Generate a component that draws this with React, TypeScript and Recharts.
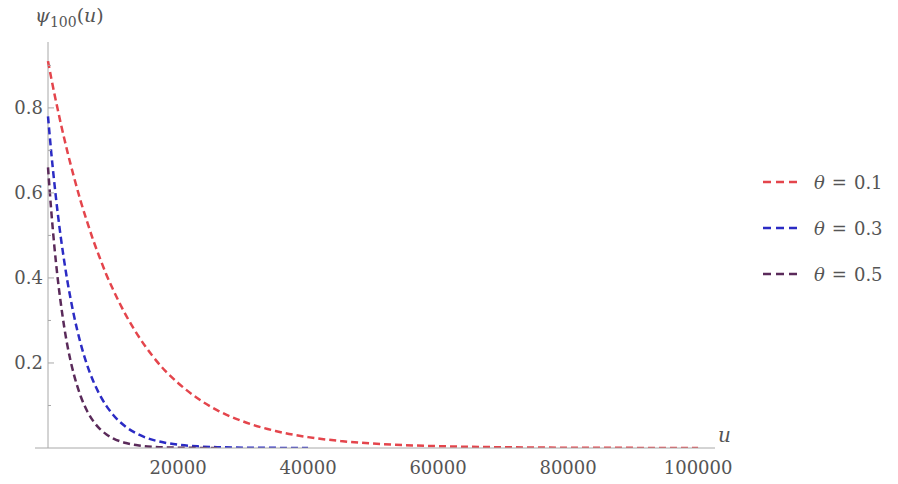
import React from 'react';
import { LineChart, Line, XAxis, YAxis, ReferenceLine } from 'recharts';

// u sample points shared by the three curves
const uPoints = [
  0, 500, 1000, 1500, 2000, 2500, 3000, 3500, 4000, 5000, 6000, 7000, 8000, 9000, 10000,
  12000, 14000, 16000, 18000, 20000, 23000, 26000, 30000, 35000, 40000, 45000, 50000,
  55000, 60000, 70000, 80000, 90000, 100000,
];

const theta01 = [
  0.91, 0.87, 0.832, 0.796, 0.761, 0.728, 0.696, 0.666, 0.637, 0.582, 0.533, 0.487, 0.446, 0.407,
  0.373, 0.312, 0.261, 0.218, 0.182, 0.153, 0.117, 0.089, 0.0625, 0.04, 0.0256, 0.0164, 0.0105,
  0.0067, 0.0043, 0.0018, 0.0007, 0.0003, 0.0001,
];

const theta03 = [
  0.78, 0.695, 0.62, 0.552, 0.492, 0.439, 0.391, 0.349, 0.311, 0.247, 0.196, 0.156, 0.124, 0.0985,
  0.0783, 0.0495, 0.0312, 0.0197, 0.0125, 0.0079, 0.0039, 0.002, 0.0008, 0.0003, 0.0001,
  null, null, null, null, null, null, null, null,
];

const theta05 = [
  0.66, 0.558, 0.471, 0.398, 0.337, 0.284, 0.24, 0.203, 0.172, 0.123, 0.0875, 0.0625, 0.0446,
  0.0319, 0.0228, 0.0116, 0.0059, 0.003, 0.0015, 0.0008, 0.0003, 0.0001,
  null, null, null, null, null, null, null, null, null, null, null,
];

const xTicks = [20000, 40000, 60000, 80000, 100000];
const yTicks = [0.05, 0.1, 0.15, 0.2, 0.25, 0.3, 0.35, 0.4, 0.45, 0.5, 0.55, 0.6, 0.65, 0.7, 0.75, 0.8, 0.85, 0.9];
const legendLabels = ['0.1', '0.3', '0.5'];

const COLORS = ['#e4454c', '#2b2bc4', '#5a2a5a'];
const AXIS = '#a8a8a8';
const FONT = '"DejaVu Serif", "Liberation Serif", serif';
const DASH = '7 4';

const data = uPoints.map((u, i) => ({ u, a: theta01[i], b: theta03[i], c: theta05[i] }));

const YTick = (props: any) => {
  const { x, y, payload } = props;
  const v = payload.value as number;
  const major = Math.abs(v * 5 - Math.round(v * 5)) < 1e-6;
  const ax = x + 13;
  return (
    <g>
      <line x1={ax} x2={ax + (major ? 6 : 3)} y1={y} y2={y} stroke={AXIS} strokeWidth={1} />
      {major && (
        <text x={ax - 5} y={y} dy="0.35em" textAnchor="end" fill="#555" fontSize={18} fontFamily={FONT}>
          {v.toFixed(1)}
        </text>
      )}
    </g>
  );
};

export default function App() {
  return (
    <div style={{ position: 'fixed', left: 0, top: 0, width: 898, height: 484, background: '#fff' }}>
      <LineChart width={898} height={484} data={data} margin={{ top: 42, right: 183, left: 0, bottom: 6 }}>
        <XAxis
          dataKey="u"
          type="number"
          domain={[-2000, 102600]}
          allowDataOverflow
          ticks={xTicks}
          tickLine={false}
          tickMargin={7}
          height={30}
          axisLine={{ stroke: AXIS }}
          tick={{ fill: '#555', fontSize: 18, fontFamily: FONT }}
        />
        <YAxis
          type="number"
          domain={[0, 0.955]}
          allowDataOverflow
          ticks={yTicks}
          width={35}
          axisLine={false}
          tickLine={false}
          tickSize={0}
          tickMargin={0}
          tick={<YTick />}
        />
        <ReferenceLine x={0} stroke={AXIS} />
        <Line dataKey="a" type="monotone" stroke={COLORS[0]} strokeWidth={2.5} strokeDasharray={DASH} dot={false} isAnimationActive={false} />
        <Line dataKey="b" type="monotone" stroke={COLORS[1]} strokeWidth={2.5} strokeDasharray={DASH} dot={false} isAnimationActive={false} />
        <Line dataKey="c" type="monotone" stroke={COLORS[2]} strokeWidth={2.5} strokeDasharray={DASH} dot={false} isAnimationActive={false} />
      </LineChart>
      <div style={{ position: 'absolute', left: 762, top: 159, fontFamily: FONT, fontSize: 18, color: '#555' }}>
        {legendLabels.map((l, i) => (
          <div key={l} style={{ display: 'flex', alignItems: 'center', height: 46 }}>
            <svg width={40} height={10} style={{ marginRight: 12 }}>
              <line x1={1} x2={39} y1={5} y2={5} stroke={COLORS[i]} strokeWidth={2.5} strokeDasharray="8 5" />
            </svg>
            <span style={{ whiteSpace: 'nowrap' }}>
              <i>θ</i>
              <span style={{ margin: '0 7px' }}>=</span>
              {l}
            </span>
          </div>
        ))}
      </div>
      <div style={{ position: 'absolute', left: 35, top: 4, fontFamily: FONT, fontSize: 19, color: '#555', whiteSpace: 'nowrap' }}>
        <i>ψ</i>
        <sub style={{ fontSize: 14 }}>100</sub>(<i>u</i>)
      </div>
      <div style={{ position: 'absolute', left: 718, top: 423, fontFamily: FONT, fontSize: 20, color: '#555' }}>
        <i>u</i>
      </div>
    </div>
  );
}
